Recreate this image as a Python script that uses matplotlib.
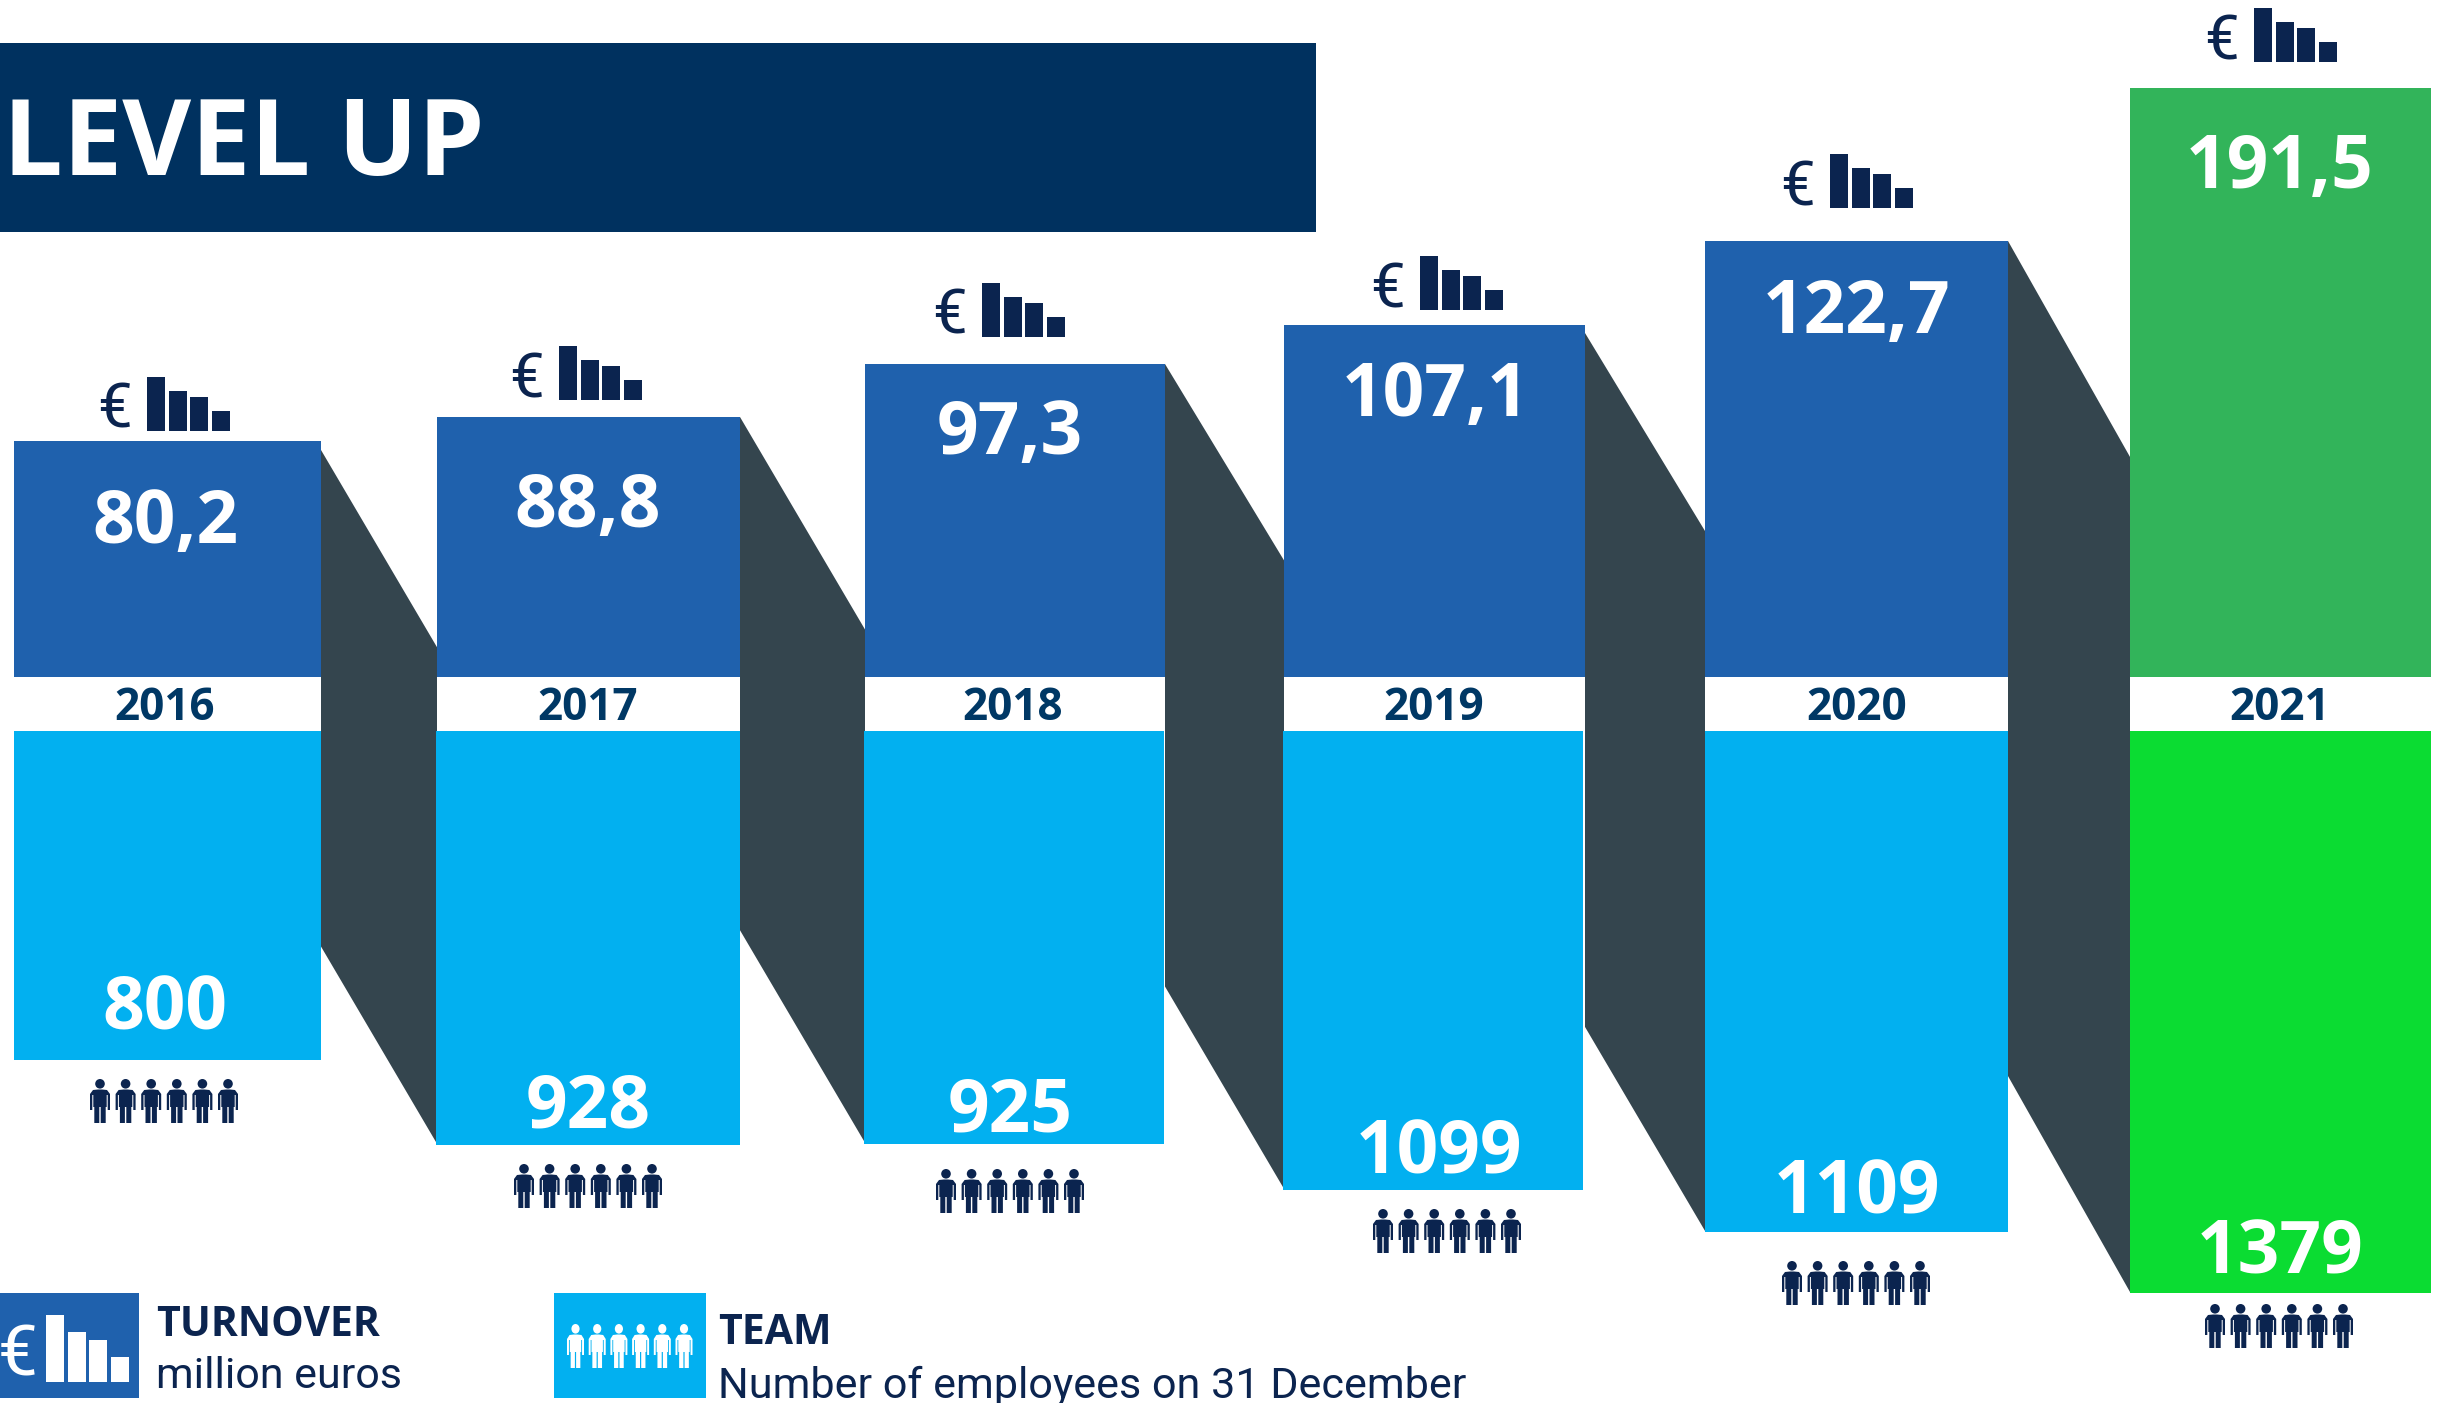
import numpy as np
import matplotlib
matplotlib.use("Agg")
import matplotlib.pyplot as plt
from matplotlib.patches import Rectangle, Ellipse, Polygon

# ---- data ----
years = ["2016", "2017", "2018", "2019", "2020", "2021"]
turnover = [80.2, 88.8, 97.3, 107.1, 122.7, 191.5]
team = [800, 928, 925, 1099, 1109, 1379]
turnover_labels = ["80,2", "88,8", "97,3", "107,1", "122,7", "191,5"]
team_labels = ["800", "928", "925", "1099", "1109", "1379"]

# The columns are an illustration rather than a linear plot, so each axis uses
# a stepped scale: value -> column length in pixels.
turnover_scale_values = [0, 80.2, 88.8, 97.3, 107.1, 122.7, 191.5]
turnover_scale_lengths = [0, 236, 260, 313, 352, 436, 589]
team_scale_values = [0, 800, 925, 928, 1099, 1109, 1379]
team_scale_lengths = [0, 328, 412, 413, 458, 500, 561]

# ---- layout (pixels) ----
W, H = 2447, 1403
left_edges = [14, 437, 865, 1284, 1705, 2130]
right_edges = [321, 740, 1165, 1585, 2008, 2431]
team_left_edges = [14, 436, 864, 1283, 1705, 2130]
team_right_edges = [321, 740, 1164, 1583, 2008, 2431]
turnover_base, turnover_top = 677, 88
team_base, team_end = 731, 1293
turnover_text_y = [515, 499, 426, 388, 305, 160]
team_text_y = [1002, 1099, 1104, 1146, 1185, 1246]
text_x = [165, 588, 1010, 1436, 1857, 2280]
team_text_x = [165, 588, 1010, 1439, 1857, 2280]
year_x = [165, 588, 1013, 1434, 1857, 2280]
euro_icon_x = [147, 559, 982, 1420, 1830, 2254]
euro_icon_y = [431, 400, 337, 310, 208, 62]
people_x = [90, 514, 936, 1373, 1782, 2205]
people_y = [1079, 1164, 1169, 1209, 1261, 1304]
connector_lead = [9, 0, 0, 8, 0]
connector_upper_slope = [1.70, 1.70, 1.65, 1.65, 1.77]
connector_lower_slope = [1.70, 1.70, 1.70, 1.70, 1.77]

NAVY = "#0B244F"
BLUE = "#1F61AD"
SKY = "#02B0F0"
SLATE = "#34454E"
GREEN = "#32B45A"
LIME = "#0BDC32"
TITLE = "#00315F"
YEAR = "#003865"
BOLD_FONT = "Open Sans"
TEXT_FONT = "Roboto"


def px(size):
    return size * 72 / 100


def stepped(values, lengths):
    fwd = lambda v: np.interp(v, values, lengths)
    inv = lambda l: np.interp(l, lengths, values)
    return fwd, inv


fig = plt.figure(figsize=(W / 100, H / 100), dpi=100, facecolor="white")


def panel(y_top, y_bottom, zorder):
    a = fig.add_axes([0, 1 - y_bottom / H, 1, (y_bottom - y_top) / H], zorder=zorder)
    a.set_xlim(0, W)
    a.axis("off")
    a.patch.set_alpha(0)
    return a


bg = panel(0, H, 0)
bg.set_ylim(H, 0)

ax_t = panel(turnover_top, turnover_base, 1)
ax_t.set_yscale("function", functions=stepped(turnover_scale_values, turnover_scale_lengths))
ax_t.set_ylim(0, max(turnover))

ax_p = panel(team_base, team_end, 1)
ax_p.set_yscale("function", functions=stepped(team_scale_values, team_scale_lengths))
ax_p.set_ylim(max(team), 0)
for a in (ax_t, ax_p):
    a.axis("off")

fg = panel(0, H, 2)
fg.set_ylim(H, 0)

ax_t.bar(left_edges, turnover, [r - l for l, r in zip(left_edges, right_edges)],
         align="edge", color=[BLUE] * 5 + [GREEN], linewidth=0)
ax_p.bar(team_left_edges, team, [r - l for l, r in zip(team_left_edges, team_right_edges)],
         align="edge", color=[SKY] * 5 + [LIME], linewidth=0)


def image_y(ax, v):
    return H - ax.transData.transform((0, v))[1]


# Slanted bands joining neighbouring columns
for i in range(5):
    x0, x1 = right_edges[i], left_edges[i + 1]
    upper = image_y(ax_t, turnover[i]) + connector_lead[i]
    lower = image_y(ax_p, team[i + 1]) - 1
    span = x1 - x0
    bg.add_patch(Polygon([(x0, upper), (x1, upper + connector_upper_slope[i] * span),
                          (x1, lower), (x0, lower - connector_lower_slope[i] * span)],
                         closed=True, color=SLATE, linewidth=0))

# Header band
bg.add_patch(Rectangle((0, 43), 1316, 189, color=TITLE, linewidth=0))
fg.text(3, 134, "LEVEL UP", color="white", family=BOLD_FONT, weight="bold",
        fontsize=px(106), ha="left", va="center_baseline")


def euro_icon(x, base, color, euro_x, y_scale=1.0, euro_scale=1.0):
    heights = [54, 40, 34, 20]
    offsets = [0, 22, 43, 65]
    for off, h in zip(offsets, heights):
        fg.add_patch(Rectangle((x + off, base - h * y_scale), 18, h * y_scale,
                               color=color, linewidth=0))
    fg.text(euro_x, base - 26 * y_scale, "€", color=color, family=TEXT_FONT,
            fontsize=px(62) * euro_scale, ha="left", va="center_baseline")


def person(x, y, color, sx=1.0):
    outline = [(0, 15), (3, 11), (8, 10.5), (12, 10.5), (17, 11), (20, 15), (20, 31), (17.7, 31),
               (17.7, 16), (16.7, 16), (16.7, 28), (15.7, 28), (15.7, 44), (10.7, 44), (10.7, 28),
               (9.3, 28), (9.3, 44), (4.3, 44), (4.3, 28), (3.3, 28), (3.3, 16), (2.3, 16),
               (2.3, 31), (0, 31)]
    fg.add_patch(Polygon([(x + a * sx, y + b) for a, b in outline], closed=True,
                         color=color, linewidth=0))
    fg.add_patch(Ellipse((x + 10 * sx, y + 4.8), 9.6 * sx, 9.6, color=color, linewidth=0))


def people(x, y, color, step=25.6, sx=1.0):
    for k in range(6):
        person(x + k * step, y, color, sx)


for i, yr in enumerate(years):
    fg.text(year_x[i], 703, yr, color=YEAR, family=BOLD_FONT, weight="bold", fontsize=px(44),
            ha="center", va="center_baseline")
    fg.text(text_x[i], turnover_text_y[i], turnover_labels[i], color="white", family=BOLD_FONT,
            weight="bold", fontsize=px(73), ha="center", va="center_baseline")
    fg.text(team_text_x[i], team_text_y[i], team_labels[i], color="white", family=BOLD_FONT,
            weight="bold", fontsize=px(73), ha="center", va="center_baseline")
    euro_icon(euro_icon_x[i], euro_icon_y[i], NAVY, euro_icon_x[i] - 50)
    people(people_x[i], people_y[i], NAVY)

# Legend
bg.add_patch(Rectangle((0, 1293), 139, 105, color=BLUE, linewidth=0))
euro_icon(46, 1382, "white", -2, y_scale=1.25, euro_scale=1.15)
fg.text(156, 1321, "TURNOVER", color=NAVY, family=BOLD_FONT, weight="bold", fontsize=px(41),
        ha="left", va="center_baseline")
fg.text(156, 1372, "million euros", color=NAVY, family=TEXT_FONT, fontsize=px(43),
        ha="left", va="center_baseline")

bg.add_patch(Rectangle((554, 1293), 152, 105, color=SKY, linewidth=0))
people(567, 1324, "white", step=21.7, sx=0.85)
fg.text(718, 1329, "TEAM", color=NAVY, family=BOLD_FONT, weight="bold", fontsize=px(41),
        ha="left", va="center_baseline")
fg.text(718, 1382, "Number of employees on 31 December", color=NAVY, family=TEXT_FONT,
        fontsize=px(43.2), ha="left", va="center_baseline")

fig.savefig("out.png", dpi=100)
